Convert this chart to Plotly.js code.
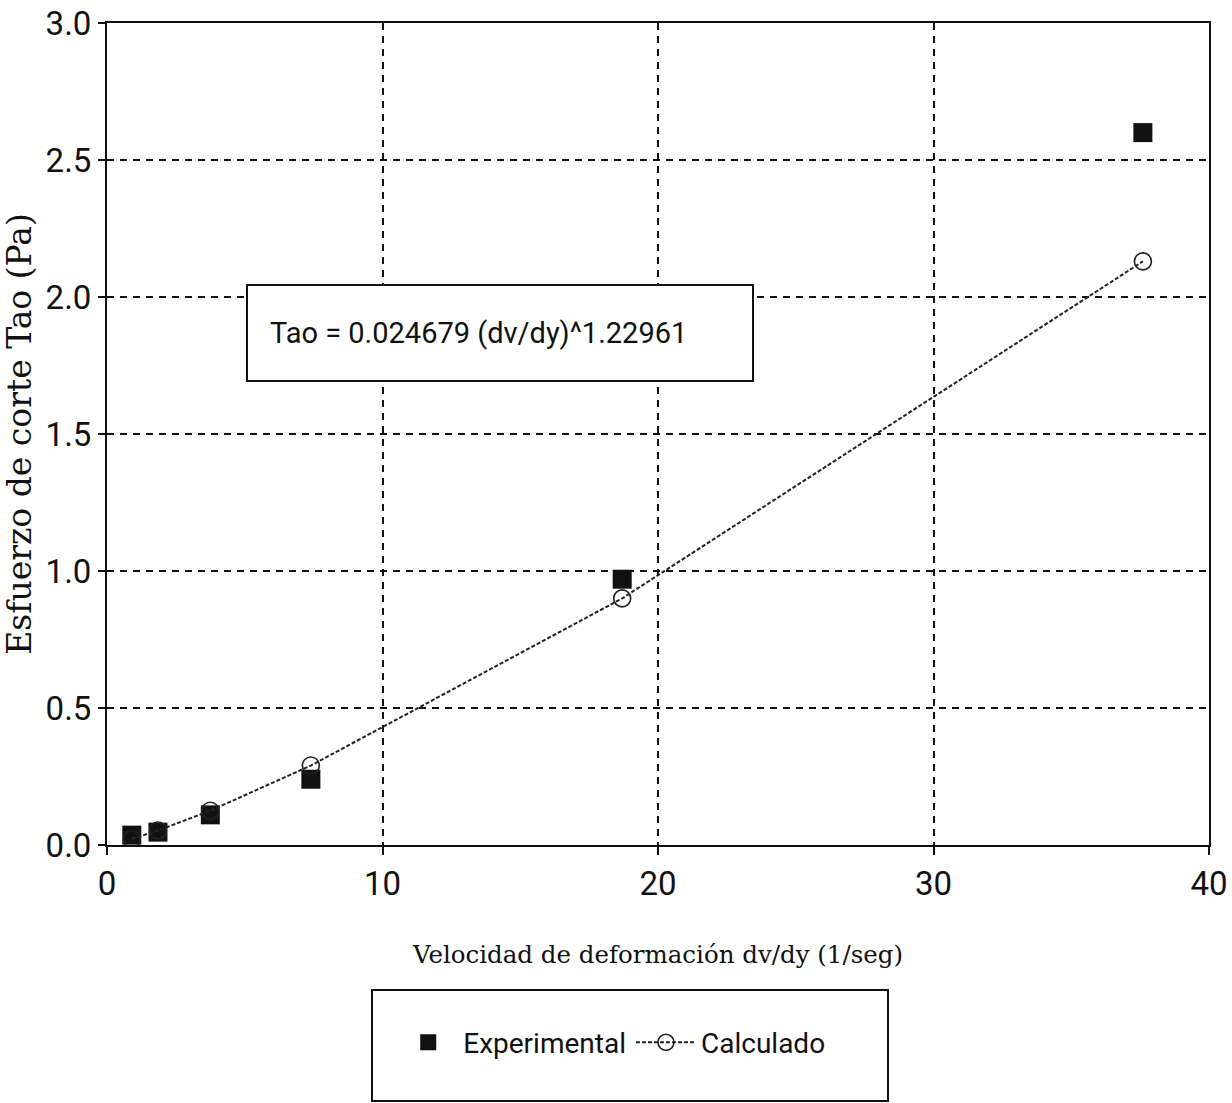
<!DOCTYPE html>
<html>
<head>
<meta charset="utf-8">
<script src="https://cdn.plot.ly/plotly-3.0.1.min.js"></script>
<style>
html,body{margin:0;padding:0;background:#fff;}
#chart{width:1232px;height:1103px;}
</style>
</head>
<body>
<div id="chart"></div>
<script>
// Data
const shearRate = [0.9, 1.85, 3.75, 7.4, 18.7, 37.6];
const tauExperimental = [0.036, 0.047, 0.11, 0.24, 0.97, 2.60];
const tauCalculado = [0.022, 0.053, 0.125, 0.29, 0.90, 2.13];
const xTicks = [0, 10, 20, 30, 40];
const yTicks = [0.0, 0.5, 1.0, 1.5, 2.0, 2.5, 3.0];
const yTickLabels = ['0.0', '0.5', '1.0', '1.5', '2.0', '2.5', '3.0'];
const equationText = 'Tao = 0.024679 (dv/dy)^1.22961';

const narrow = 'Roboto, Liberation Sans, sans-serif';
const serif = 'DejaVu Serif, Liberation Serif, serif';

const traces = [
  {
    x: shearRate, y: tauExperimental, name: 'Experimental',
    type: 'scatter', mode: 'markers',
    marker: {symbol: 'square', size: 19, color: '#111', line: {width: 0}}
  },
  {
    x: shearRate, y: tauCalculado, name: 'Calculado',
    type: 'scatter', mode: 'lines+markers',
    line: {color: '#222', width: 2, dash: '4px,2px'},
    marker: {symbol: 'circle-open', size: 17, color: '#222', line: {width: 1.6, color: '#222'}}
  }
];

const layout = {
  width: 1232, height: 1103,
  margin: {l: 107, r: 23, t: 23, b: 258},
  paper_bgcolor: '#fff', plot_bgcolor: '#fff',
  showlegend: true,
  legend: {
    orientation: 'h', x: 0.458, xanchor: 'center', y: -0.21, yanchor: 'top',
    font: {family: narrow, size: 28, color: '#111'},
    bgcolor: 'rgba(0,0,0,0)', borderwidth: 0, itemwidth: 60
  },
  xaxis: {
    range: [0, 40], tickvals: xTicks, ticktext: xTicks.map(String),
    showline: true, linecolor: '#111', linewidth: 2, mirror: true,
    ticks: 'outside', ticklen: 8, tickwidth: 2, tickcolor: '#111',
    showgrid: true, gridcolor: '#111', gridwidth: 2, griddash: '7px,6px',
    zeroline: false,
    tickfont: {family: narrow, size: 33, color: '#111'},
    title: {text: 'Velocidad de deformación dv/dy (1/seg)', font: {family: serif, size: 24.5, color: '#111'}, standoff: 44}
  },
  yaxis: {
    range: [0, 3], tickvals: yTicks, ticktext: yTickLabels,
    showline: true, linecolor: '#111', linewidth: 2, mirror: true,
    ticks: 'outside', ticklen: 7, tickwidth: 2, tickcolor: '#111',
    showgrid: true, gridcolor: '#111', gridwidth: 2, griddash: '7px,6px',
    zeroline: false,
    tickfont: {family: narrow, size: 33, color: '#111'},
    title: {text: 'Esfuerzo de corte Tao (Pa)', font: {family: serif, size: 33, color: '#111'}, standoff: 6}
  },
  annotations: [{
    xref: 'paper', yref: 'paper', x: 0.357, y: 0.623, xanchor: 'center', yanchor: 'middle',
    text: equationText, showarrow: false,
    font: {family: narrow, size: 29, color: '#111'},
    bgcolor: '#fff', bordercolor: '#111', borderwidth: 2,
    width: 460, height: 50, align: 'left', borderpad: 22
  }],
  shapes: [{
    type: 'rect', xref: 'paper', yref: 'paper',
    x0: (372 - 107) / 1102, x1: (888 - 107) / 1102,
    y0: (845 - 1101) / 822, y1: (845 - 990) / 822,
    line: {color: '#111', width: 2}, fillcolor: 'rgba(0,0,0,0)', layer: 'above'
  }]
};

Plotly.newPlot('chart', traces, layout, {displayModeBar: false, staticPlot: true});
</script>
</body>
</html>
